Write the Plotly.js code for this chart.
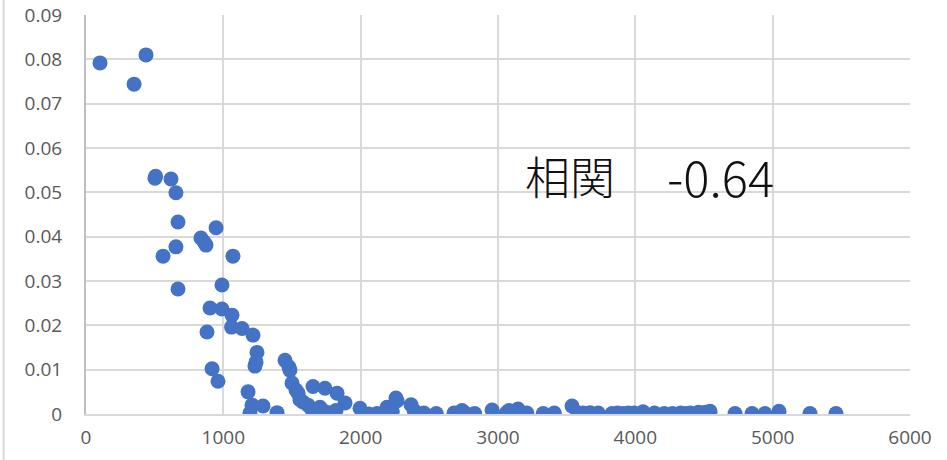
<!DOCTYPE html>
<html>
<head>
<meta charset="utf-8">
<script src="https://cdn.plot.ly/plotly-3.0.1.min.js"></script>
<style>html,body{margin:0;padding:0;background:#fff;}#chart{width:947px;height:460px;}</style>
</head>
<body>
<div id="chart"></div>
<script>
const xValues = [102,350,437,502,507,619,655,670,947,837,860,874,655,561,1070,670,990,
  903,990,1063,1060,1136,1216,881,1245,1238,1230,918,961,1180,1209,1194,1289,1391,
  1449,1478,1485,1500,1529,1544,1558,1580,1617,1653,1740,1828,1886,1645,1704,1740,1755,1790,1820,
  1995,2017,2060,2120,2192,2230,2257,2265,2367,2390,2460,2550,2680,2738,2760,2830,2957,
  3060,3080,3146,3210,3330,3410,3539,3580,3620,3670,3730,3830,3870,3910,3950,3990,4056,
  4140,4210,4270,4330,4370,4400,4460,4510,4544,4726,4850,4944,5046,5272,5461];
const yValues = [0.0792,0.0744,0.0810,0.0532,0.0536,0.0530,0.0499,0.0433,0.0420,0.0397,0.0388,0.0381,0.0377,0.0356,0.0356,0.0282,0.0291,
  0.0239,0.0237,0.0223,0.0196,0.0193,0.0178,0.0185,0.0139,0.0117,0.0108,0.0102,0.0074,0.0050,0.0020,0.0002,0.0018,0.0003,
  0.0121,0.0106,0.0099,0.0070,0.0054,0.0047,0.0032,0.0027,0.0020,0.0062,0.0058,0.0047,0.0025,0.0010,0.0015,0.0005,0.0002,0.0003,0.0008,
  0.0013,0.0002,0.0000,0.0001,0.0015,0.0006,0.0036,0.0030,0.0021,0.0007,0.0002,0.0001,0.0002,0.0008,0.0002,0.0001,0.0009,
  0.0002,0.0008,0.0011,0.0002,0.0001,0.0002,0.0018,0.0003,0.0002,0.0003,0.0002,0.0001,0.0002,0.0001,0.0002,0.0002,0.0005,
  0.0002,0.0001,0.0001,0.0002,0.0001,0.0002,0.0004,0.0004,0.0006,0.0001,0.0001,0.0001,0.0006,0.0001,0.0001];
const xTicks = [0,1000,2000,3000,4000,5000,6000];
const yTicks = [0,0.01,0.02,0.03,0.04,0.05,0.06,0.07,0.08,0.09];
const corrLabel = "相関";
const corrValue = "-0.64";

const tickFont = {family: "Open Sans, Noto Sans, sans-serif", size: 19, color: "#595959"};

const trace = {
  type: "scatter", mode: "markers",
  x: xValues, y: yValues,
  marker: {color: "#4472C4", size: 15, line: {width: 0}},
  hoverinfo: "skip"
};

const layout = {
  width: 947, height: 460,
  margin: {l: 86, r: 37, t: 15, b: 46, pad: 0},
  paper_bgcolor: "#ffffff", plot_bgcolor: "#ffffff",
  showlegend: false,
  xaxis: {
    range: [0, 6000], tickvals: xTicks, ticktext: xTicks.map(String),
    showgrid: true, gridcolor: "#d9d9d9", gridwidth: 2,
    zeroline: false, showline: true, linecolor: "#d9d9d9", linewidth: 2,
    ticks: "", tickfont: tickFont, ticklabelstandoff: 5, fixedrange: true
  },
  yaxis: {
    range: [0, 0.09], tickvals: yTicks, ticktext: yTicks.map(v => v === 0 ? "0" : v.toFixed(2)),
    showgrid: true, gridcolor: "#d9d9d9", gridwidth: 2,
    zeroline: false, showline: true, linecolor: "#bfbfbf", linewidth: 2,
    ticks: "", tickfont: tickFont, ticklabelstandoff: 18, fixedrange: true
  },
  shapes: [
    {type: "line", xref: "paper", yref: "paper", x0: -0.1, x1: -0.1, y0: -0.2, y1: 1.1,
     line: {color: "#d9d9d9", width: 2}}
  ],
  annotations: [
    {x: 3524, y: 0.0539, xref: "x", yref: "y", text: corrLabel, showarrow: false,
     font: {family: "Noto Sans CJK JP, sans-serif", size: 45, color: "#111111", weight: 300}},
    {x: 4618, y: 0.0539, xref: "x", yref: "y", text: corrValue, showarrow: false,
     font: {family: "Noto Sans CJK JP, sans-serif", size: 49, color: "#111111", weight: 300}}
  ]
};

Plotly.newPlot("chart", [trace], layout, {staticPlot: true, displayModeBar: false});
</script>
</body>
</html>
